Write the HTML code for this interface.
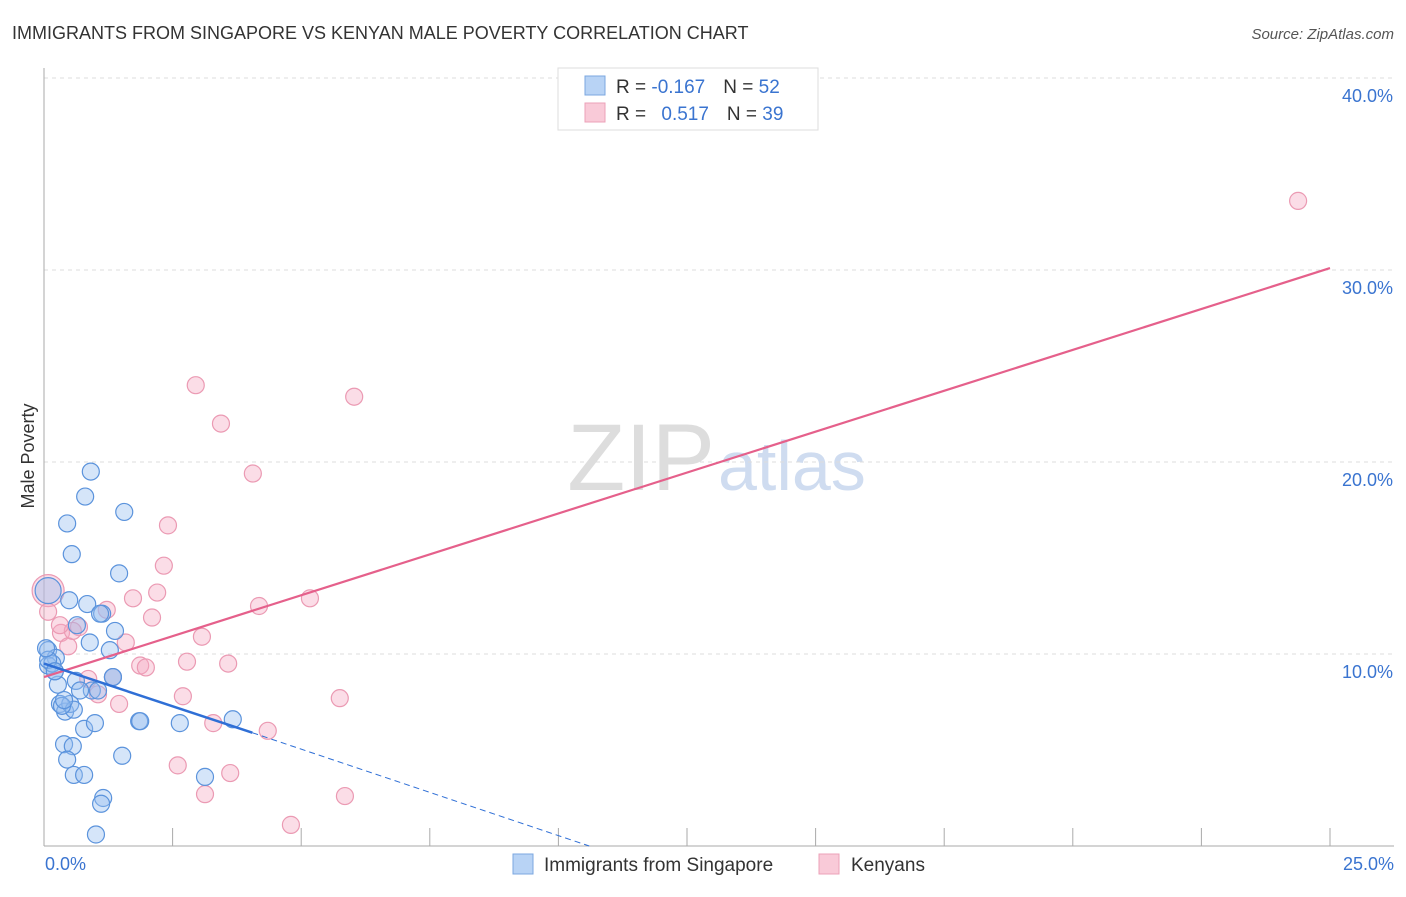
<!DOCTYPE html>
<html><head><meta charset="utf-8"><style>
body{margin:0;background:#fff;font-family:"Liberation Sans",sans-serif}
svg text{font-family:"Liberation Sans",sans-serif}
</style></head><body>
<svg width="1406" height="892">
<text x="12" y="39" font-size="18" fill="#333">IMMIGRANTS FROM SINGAPORE VS KENYAN MALE POVERTY CORRELATION CHART</text>
<text x="1394" y="39" font-size="15" fill="#555" text-anchor="end" font-style="italic">Source: ZipAtlas.com</text>
<text x="715" y="490" font-size="95" fill="#ddd" text-anchor="end" font-family="Liberation Serif">ZIP</text>
<text x="718" y="490" font-size="70" fill="#cfdcf0">atlas</text>
<g id="grid"></g>
<line x1="44" y1="68" x2="44" y2="846" stroke="#aaa"/>
<line x1="44" y1="846" x2="1394" y2="846" stroke="#aaa"/>
<text x="34" y="456" font-size="18" fill="#333" text-anchor="middle" transform="rotate(-90 34 456)">Male Poverty</text>
<text x="45" y="870" font-size="18" fill="#3a74d0">0.0%</text>
<text x="1394" y="870" font-size="18" fill="#3a74d0" text-anchor="end">25.0%</text>
<g id="pts"></g>
<g id="trends"></g>
<g>
<rect x="558" y="68" width="260" height="62" fill="#fff" stroke="#ddd"/>
<rect x="585" y="76" width="20" height="19" fill="#b8d3f5" stroke="#7ba7e0"/>
<rect x="585" y="103" width="20" height="19" fill="#f9cad8" stroke="#eca1b8"/>
<text x="616" y="93" font-size="19" fill="#333">R = <tspan fill="#3a74d0">-0.167</tspan><tspan dx="18">N = </tspan><tspan fill="#3a74d0">52</tspan></text>
<text x="616" y="120" font-size="19" fill="#333">R = <tspan fill="#3a74d0" dx="10">0.517</tspan><tspan dx="18">N = </tspan><tspan fill="#3a74d0">39</tspan></text>
</g>
<g>
<rect x="513" y="854" width="20" height="20" fill="#b8d3f5" stroke="#7ba7e0"/>
<text x="544" y="871" font-size="19" fill="#333">Immigrants from Singapore</text>
<rect x="819" y="854" width="20" height="20" fill="#f9cad8" stroke="#eca1b8"/>
<text x="851" y="871" font-size="19" fill="#333">Kenyans</text>
</g>
</svg>
<script>
const yTicks=[10,20,30,40];
const xTicks=[0,2.5,5,7.5,10,12.5,15,17.5,20,22.5,25];
const blueX=[0.91,0.80,1.56,0.45,0.54,1.46,0.08,0.49,0.84,1.13,1.38,0.64,0.08,0.23,0.08,0.89,1.28,1.34,0.27,0.62,0.93,0.31,0.41,0.51,0.58,0.78,0.99,1.85,3.67,0.39,0.56,0.45,1.52,0.58,0.78,1.15,1.11,1.01,3.13,0.21,0.16,0.08,0.35,0.70,1.34,0.04,0.21,1.05,2.64,0.39,1.09,1.87];
const blueY=[19.5,18.2,17.4,16.8,15.2,14.2,13.3,12.8,12.6,12.1,11.2,11.5,10.2,9.8,9.4,10.6,10.2,8.8,8.4,8.6,8.1,7.4,7.0,7.4,7.1,6.1,6.4,6.5,6.6,5.3,5.2,4.5,4.7,3.7,3.7,2.5,2.2,0.6,3.6,9.1,9.5,9.7,7.3,8.1,8.8,10.3,9.1,8.1,6.4,7.6,12.1,6.5];
const pinkX=[24.38,2.95,3.44,6.03,4.06,2.41,2.33,2.20,1.73,1.22,2.10,0.08,4.18,5.17,3.07,1.59,0.68,0.33,0.47,0.56,1.87,1.98,2.78,3.58,1.05,2.70,5.75,1.46,4.35,3.29,2.60,3.62,3.13,5.85,4.80,0.08,0.86,1.34,0.31];
const pinkY=[33.6,24.0,22.0,23.4,19.4,16.7,14.6,13.2,12.9,12.3,11.9,13.3,12.5,12.9,10.9,10.6,11.4,11.1,10.4,11.2,9.4,9.3,9.6,9.5,7.9,7.8,7.7,7.4,6.0,6.4,4.2,3.8,2.7,2.6,1.1,12.2,8.7,8.8,11.5];
const X=v=>44+v*51.44, Y=v=>846-v*19.2;
const ns="http://www.w3.org/2000/svg";
function mk(t,a,p){const e=document.createElementNS(ns,t);for(const k in a)e.setAttribute(k,a[k]);p.appendChild(e);return e;}
const grid=document.getElementById('grid');
yTicks.forEach(t=>{
const l=mk('line',{x1:44,x2:1394,y1:Y(t),y2:Y(t),stroke:'#ddd','stroke-dasharray':'4,4'},grid);


const tx=mk('text',{x:1393,y:Y(t)+24,'font-size':18,fill:'#3a74d0','text-anchor':'end'},grid);
tx.textContent=t.toFixed(1)+'%';


});
xTicks.forEach(t=>{
const l=mk('line',{x1:X(t),x2:X(t),y1:828,y2:846,stroke:'#aaa'},grid);


});
const pts=document.getElementById('pts');
pinkX.forEach((x,i)=>{
const c=mk('circle',{cx:X(x),cy:Y(pinkY[i]),r:i==11?16:8.5,fill:'rgba(246,170,195,0.4)',stroke:'#eb9ab3','stroke-width':1.2},pts);


});
blueX.forEach((x,i)=>{
const c=mk('circle',{cx:X(x),cy:Y(blueY[i]),r:i==6?13:8.5,fill:'rgba(150,190,240,0.4)',stroke:'#5b93dc','stroke-width':1.2},pts);


});
const tr=document.getElementById('trends');
let l=mk('line',{x1:X(0),y1:Y(8.8),x2:X(25),y2:Y(30.1),stroke:'#e5608b','stroke-width':2.2},tr);


l=mk('line',{x1:X(0),y1:Y(9.5),x2:X(4.05),y2:Y(5.9),stroke:'#2f6fd6','stroke-width':2.5},tr);


l=mk('line',{x1:X(4.05),y1:Y(5.9),x2:X(10.6),y2:Y(0),stroke:'#2f6fd6','stroke-width':1,'stroke-dasharray':'6,4'},tr);


</script>
</body></html>
